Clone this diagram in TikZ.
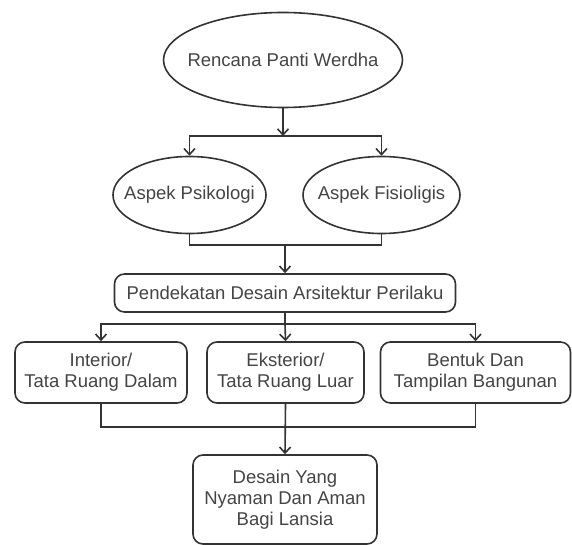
\documentclass[tikz,border=0pt]{standalone}
\usepackage{fontspec}
\setmainfont{Liberation Sans}
\usetikzlibrary{arrows.meta,shapes.geometric}
\definecolor{ln}{HTML}{333333}
\definecolor{tx}{HTML}{444444}
\begin{document}
\begin{tikzpicture}[x=1pt,y=-1pt,
  every node/.style={font=\fontsize{18.5}{21}\selectfont, text=tx, align=center},
  ell/.style={ellipse, draw=ln, line width=1.6pt, inner sep=0pt},
  rbox/.style={rectangle, rounded corners=10pt, draw=ln, line width=1.6pt, inner sep=0pt},
  conn/.style={draw=ln, line width=1.6pt},
  arr/.style={conn, -{Straight Barb[length=6pt,width=11pt,line width=1.6pt]}}]
\useasboundingbox (0,0) rectangle (572,545);
\node[ell, minimum width=239pt, minimum height=95pt] (top) at (283,60) {};
\node (topt) at (top.center) {Rencana Panti Werdha};
\node[ell, minimum width=153pt, minimum height=77pt] (psi) at (189.5,195) {};
\node (psit) at (psi.center) {Aspek Psikologi};
\node[ell, minimum width=157pt, minimum height=77pt] (fis) at (381.5,195) {};
\node (fist) at (fis.center) {Aspek Fisioligis};
\node[rbox, minimum width=341pt, minimum height=38pt] (pend) at (285,293) {Pendekatan Desain Arsitektur Perilaku};
\node[rbox, minimum width=172pt, minimum height=61pt] (b1) at (101,372.5) {Interior/\\Tata Ruang Dalam};
\node[rbox, minimum width=157pt, minimum height=61pt] (b2) at (285.5,372.5) {Eksterior/\\Tata Ruang Luar};
\node[rbox, minimum width=190pt, minimum height=61pt] (b3) at (475.5,372.5) {Bentuk Dan\\Tampilan Bangunan};
\node[rbox, minimum width=184pt, minimum height=89pt] (fin) at (285,499.5) {Desain Yang\\Nyaman Dan Aman\\Bagi Lansia};
\coordinate (j1) at (top.south |- 0,136);
\coordinate (j2) at (pend.north |- 0,245);
\coordinate (j3) at (pend.south |- 0,324);
\coordinate (j4) at (b2.south |- 0,427);
\draw[arr] (top.south) -- (j1);
\draw[arr] (j1) -| (psi.north);
\draw[arr] (j1) -| (fis.north);
\draw[conn] (psi.south) |- (j2) -| (fis.south);
\draw[arr] (j2) -- (pend.north);
\draw[conn] (pend.south) -- (j3);
\draw[arr] (j3) -| (b1.north);
\draw[arr] (j3) -| (b3.north);
\draw[arr] (j3) -- (b2.north);
\draw[conn] (b1.south) |- (j4) -| (b3.south);
\draw[arr] (b2.south) -- (fin.north);
\end{tikzpicture}
\end{document}
